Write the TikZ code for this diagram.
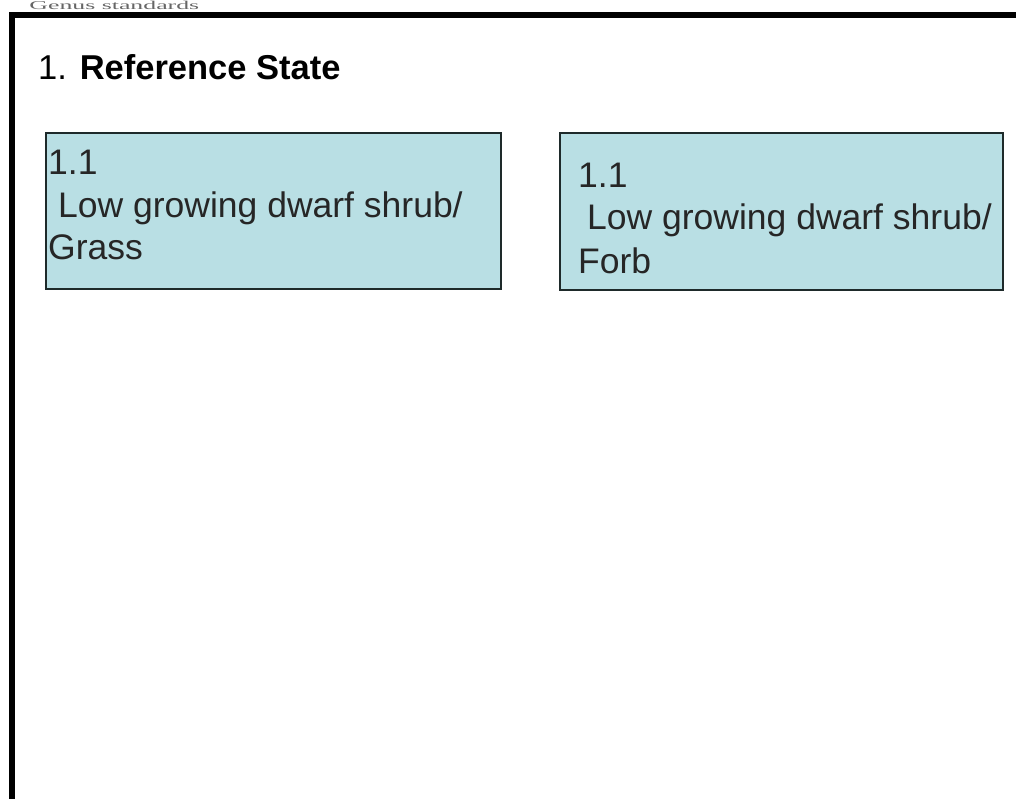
\documentclass[tikz,border=0pt]{standalone}
\usepackage{fontspec}
\setmainfont{Liberation Sans}
\newfontfamily\serifface{Liberation Serif}
\definecolor{boxfill}{HTML}{B9DFE4}
\definecolor{boxline}{HTML}{1E2A2A}
\tikzset{
  statebox/.style={draw=boxline, line width=2pt, fill=boxfill},
  boxtext/.style={anchor=base west, inner sep=0pt, font=\fontsize{35.5}{42}\selectfont, text=black!85},
}
\begin{document}
\begin{tikzpicture}[x=1pt,y=-1pt]
\useasboundingbox (0,0) rectangle (1016,799);
\fill[white] (0,0) rectangle (1016,799);
% caption above the frame
\node[anchor=base west, inner sep=0pt, xscale=2.15, font=\serifface\fontsize{12}{14}\selectfont, text=black!60] (cap) at (29,9.5) {Genus standards};
% outer frame
\draw[line width=6pt] (11.5,830) -- (11.5,15.5) -- (1040,15.5);
% title
\node[anchor=base west, inner sep=0pt, font=\fontsize{34.5}{40}\selectfont] (title) at (38,80) {1. \textbf{Reference State}};
% boxes
\draw[statebox] (46,133) rectangle (501,289);
\coordinate (b1) at (46,133);
\draw[statebox] (560,133) rectangle (1003,290);
\coordinate (b2) at (560,133);
% box 1 text
\node[boxtext] (t1a) at (48,175) {1.1};
\node[boxtext] (t1b) at (58,218) {Low growing dwarf shrub/};
\node[boxtext] (t1c) at (48,260) {Grass};
% box 2 text
\node[boxtext] (t2a) at (578,188) {1.1};
\node[boxtext] (t2b) at (587,230) {Low growing dwarf shrub/};
\node[boxtext] (t2c) at (578,273) {Forb};
\end{tikzpicture}
\end{document}
